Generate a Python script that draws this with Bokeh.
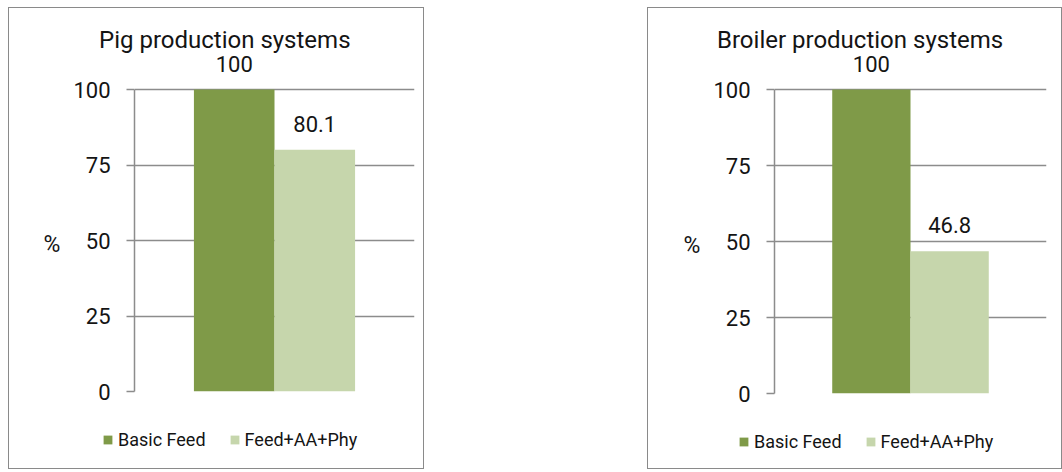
from bokeh.plotting import figure
from bokeh.models import (ColumnDataSource, FactorRange, Range1d, FixedTicker, LabelSet,
                          Legend, LegendItem, Spacer)
from bokeh.layouts import row, column
from bokeh.core.properties import value
from bokeh.embed import file_html
from bokeh.resources import INLINE

# ---- data ----
series = ["Basic Feed", "Feed+AA+Phy"]
colors = ["#7f9a48", "#c6d6ac"]
pig_values = [100, 80.1]
broiler_values = [100, 46.8]
titles = ["Pig production systems", "Broiler production systems"]
y_ticks = [0, 25, 50, 75, 100]

FONT = "Roboto"
TXT = "#141414"
GRID = "#8c8c8c"
BORDER = "1px solid #8a8a8a"


def make_panel(title, values, width, border_l, frame_w, frame_h, y_end,
               title_off, legend_x, legend_y):
    src = ColumnDataSource(dict(series=series, top=values, color=colors,
                                label=[f"{v:g}" for v in values]))
    inner_w = width - 2
    chart_h = 410
    border_t = 45
    border_b = chart_h - border_t - frame_h
    xr = FactorRange(*series, range_padding=0.7375, range_padding_units="absolute")
    p = figure(width=width, height=chart_h + 1, output_backend="svg", toolbar_location=None,
               x_range=xr, y_range=Range1d(0, y_end),
               min_border_left=border_l, min_border_right=inner_w - border_l - frame_w,
               min_border_top=border_t, min_border_bottom=border_b,
               outline_line_color=None, background_fill_color="white",
               border_fill_color="white")
    p.frame_align = False
    p.styles = {"border-left": BORDER, "border-right": BORDER, "border-top": BORDER}
    p.vbar(x="series", top="top", width=1.0, source=src, fill_color="color",
           line_color=None)
    p.xaxis.visible = False
    p.xgrid.grid_line_color = None
    ya = p.yaxis[0]
    ya.ticker = FixedTicker(ticks=y_ticks)
    ya.bounds = (0, 100)
    ya.minor_tick_line_color = None
    ya.major_tick_in = 0
    ya.major_tick_out = 8
    ya.major_tick_line_color = GRID
    ya.major_tick_line_width = 1.5
    ya.axis_line_color = GRID
    ya.axis_line_width = 1.5
    ya.major_label_standoff = 16
    ya.major_label_text_font = FONT
    ya.major_label_text_font_size = "22px"
    ya.major_label_text_color = TXT
    ya.axis_label = "\n%"
    ya.axis_label_orientation = "horizontal"
    ya.axis_label_text_font = FONT
    ya.axis_label_text_font_size = "23px"
    ya.axis_label_text_font_style = "normal"
    ya.axis_label_text_line_height = 1.6
    ya.axis_label_text_color = TXT
    ya.axis_label_standoff = 10
    p.ygrid.ticker = FixedTicker(ticks=y_ticks)
    p.ygrid.grid_line_color = GRID
    p.ygrid.grid_line_width = 1.5

    labels = LabelSet(x="series", y="top", text="label", source=src, y_offset=18,
                      text_align="center", text_baseline="alphabetic",
                      text_font=value(FONT), text_font_size=value("22px"),
                      text_color=value(TXT))
    p.add_layout(labels)

    p.title.text = title
    p.title.text_font = FONT
    p.title.text_font_size = "24px"
    p.title.text_font_style = "normal"
    p.title.text_color = TXT
    p.title.align = "left"
    p.title.offset = title_off
    p.title.standoff = 0

    # legend strip (same data, bars kept outside its visible y range)
    lg = figure(width=width, height=51, output_backend="svg", toolbar_location=None,
                x_range=xr, y_range=Range1d(1000, 1001),
                x_axis_location=None, y_axis_location=None,
                min_border=0, outline_line_color=None,
                background_fill_color="white", border_fill_color="white")
    lg.frame_align = False
    lg.styles = {"border-left": BORDER, "border-right": BORDER, "border-bottom": BORDER}
    lg.grid.grid_line_color = None
    lr = lg.vbar(x="series", top="top", width=1.0, source=src, fill_color="color",
                 line_color=None)
    items = [LegendItem(label=s, renderers=[lr], index=i) for i, s in enumerate(series)]
    leg = Legend(items=items, location=(legend_x, legend_y), orientation="horizontal",
                 glyph_width=11, glyph_height=11, label_standoff=5, spacing=23,
                 padding=0, margin=0, border_line_color=None,
                 background_fill_alpha=0, label_text_font=FONT,
                 label_text_font_size="18px", label_text_color=TXT)
    lg.add_layout(leg)
    return column(p, lg, spacing=0)


p1 = make_panel(titles[0], pig_values, 416, 125, 278, 337, 111.96, -35.5, 93, 19.5)
p2 = make_panel(titles[1], broiler_values, 415, 126, 270, 339, 111.88, -57.5, 90, 17.5)

layout = column(Spacer(height=7, width=1062),
                row(Spacer(width=8, height=462), p1, Spacer(width=223, height=462), p2,
                    spacing=0),
                spacing=0)
open("out.html", "w").write(file_html(layout, INLINE))
